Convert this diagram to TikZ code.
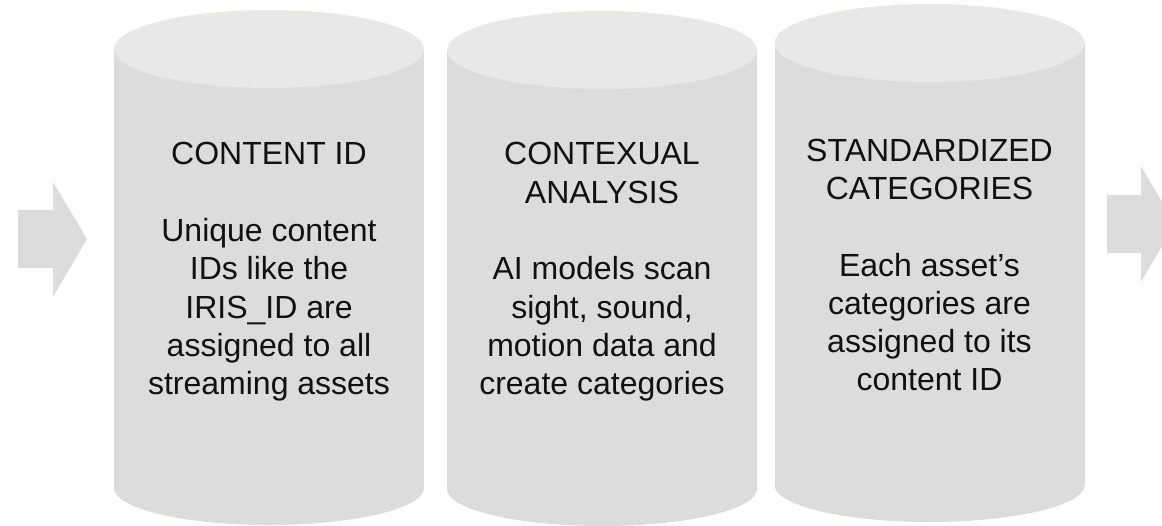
\documentclass[tikz,border=0pt]{standalone}
\usepackage{fontspec}
\setmainfont{Liberation Sans}
\definecolor{cyltop}{HTML}{E8E8E7}
\definecolor{cylbody}{HTML}{DCDCDB}
\definecolor{txt}{HTML}{111111}
\begin{document}
\begin{tikzpicture}[x=1pt,y=-1pt,
  cyltext/.style={align=center,inner sep=0pt,text=txt,
    font=\fontsize{32}{38.3}\selectfont},
  arrowshape/.style={fill=cylbody}]
\useasboundingbox (0,0) rectangle (1162,525);
\clip (0,0) rectangle (1162,525);
% cylinders: cx, top y, bottom y
\foreach \cx/\ty/\by [count=\i] in {269/49/488, 602/50/489, 929.5/43/485}{
  \fill[cylbody] (\cx-155,\ty) rectangle (\cx+155,\by);
  \fill[cylbody] (\cx,\by) ellipse [x radius=155pt, y radius=37pt];
  \fill[cyltop] (\cx,\ty) ellipse [x radius=155pt, y radius=39pt];
}
% arrows
\fill[arrowshape] (18,210) -- (53,210) -- (53,182) -- (87,239) -- (53,297) -- (53,268) -- (18,268) -- cycle;
\fill[arrowshape] (1107,195) -- (1141,195) -- (1141,166) -- (1175,224) -- (1141,282) -- (1141,253) -- (1107,253) -- cycle;
% texts
\node[cyltext] (t1) at (269,272) {CONTENT ID\\[38.3pt]Unique content\\IDs like the\\IRIS\_ID are\\assigned to all\\streaming assets};
\node[cyltext] (t2) at (602,272) {CONTEXUAL\\ANALYSIS\\[38.3pt]AI models scan\\sight, sound,\\motion data and\\create categories};
\node[cyltext] (t3) at (929.5,265) {STANDARDIZED\\CATEGORIES\\[38.3pt]Each asset’s\\categories are\\assigned to its\\content ID};
\end{tikzpicture}
\end{document}
